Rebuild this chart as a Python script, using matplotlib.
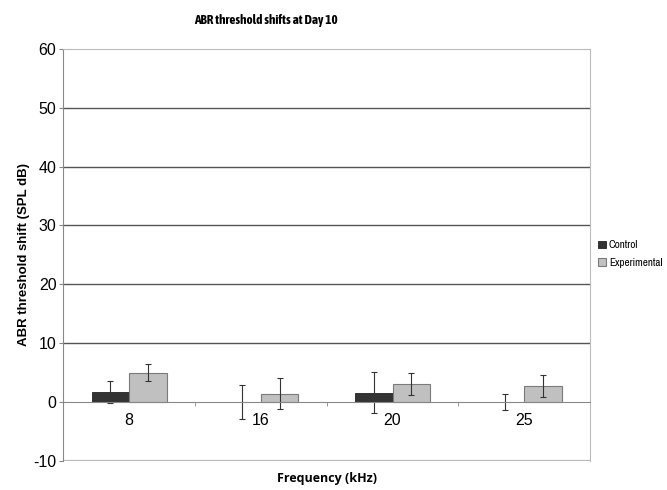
import matplotlib
matplotlib.use("Agg")
import matplotlib.pyplot as plt
import numpy as np
from matplotlib import font_manager

categories = ["8", "16", "20", "25"]
control = [1.7, 0.0, 1.6, 0.0]
control_err = [1.9, 2.9, 3.5, 1.4]
experimental = [5.0, 1.4, 3.0, 2.7]
experimental_err = [1.5, 2.6, 1.9, 1.9]
yticks = [-10, 0, 10, 20, 30, 40, 50, 60]

names = {f.name for f in font_manager.fontManager.ttflist}
if "Liberation Sans Narrow" in names:
    narrow_bold = narrow = "Liberation Sans Narrow"
else:
    narrow_bold = "Asap Condensed" if "Asap Condensed" in names else "Liberation Sans"
    narrow = "Archivo Narrow" if "Archivo Narrow" in names else "Liberation Sans"

fig = plt.figure(figsize=(6.67, 4.9), dpi=100)
ax = fig.add_axes([0.095, 0.0596, 0.7896, 0.8404])

x = np.arange(len(categories))
w = 0.285
ax.bar(x - w / 2, control, w, color="#333333", edgecolor="#222222", linewidth=0.6,
       yerr=control_err, error_kw=dict(ecolor="#333333", elinewidth=0.8, capsize=2.5, capthick=0.8),
       label="Control", zorder=3)
ax.bar(x + w / 2, experimental, w, color="#c0c0c0", edgecolor="#7a7a7a", linewidth=0.8,
       yerr=experimental_err, error_kw=dict(ecolor="#333333", elinewidth=0.8, capsize=2.5, capthick=0.8),
       label="Experimental", zorder=3)

ax.set_xlim(-0.5, len(categories) - 0.5)
ax.set_ylim(-10, 60)
ax.set_yticks(yticks)
ax.set_yticklabels([str(v) for v in yticks], fontsize=11.5, family="Liberation Sans")

for v in yticks:
    if 0 < v < 60:
        ax.axhline(v, color="#555555", linewidth=1.0, zorder=1)

ax.spines["bottom"].set_position(("data", 0))
ax.spines["bottom"].set_color("#888888")
ax.spines["bottom"].set_zorder(4)
ax.spines["left"].set_color("#888888")
ax.spines["top"].set_color("#bbbbbb")
ax.spines["right"].set_color("#bbbbbb")
ax.axhline(-10, color="#bbbbbb", linewidth=1.6, zorder=1)

ax.set_xticks(x)
ax.set_xticklabels(categories, fontsize=11.5, family="Liberation Sans")
ax.set_xticks(np.arange(0.5, len(categories) - 0.5, 1), minor=True)
ax.tick_params(axis="x", which="major", length=0, pad=8)
ax.tick_params(axis="x", which="minor", length=3, direction="out", color="#888888")
ax.tick_params(axis="y", length=3, color="#888888", pad=2)

fig.text(0.399, 0.959, "ABR threshold shifts at Day 10", ha="center", va="center",
         fontsize=9.5, fontweight="bold", family=narrow_bold)
fig.text(0.49, 0.024, "Frequency (kHz)", ha="center", va="center",
         fontsize=9, fontweight="bold", family="Open Sans")
fig.text(0.036, 0.48, "ABR threshold shift (SPL dB)", ha="center", va="center", rotation=90,
         fontsize=9.5, fontweight="bold", family="Liberation Sans")

leg = ax.legend(loc="center left", bbox_to_anchor=(1.0, 0.502), frameon=False,
                prop=dict(family=narrow, size=8), handlelength=0.7, handleheight=0.7,
                handletextpad=0.3, labelspacing=0.65, borderaxespad=0.3)

fig.savefig("out.png", dpi=100)
